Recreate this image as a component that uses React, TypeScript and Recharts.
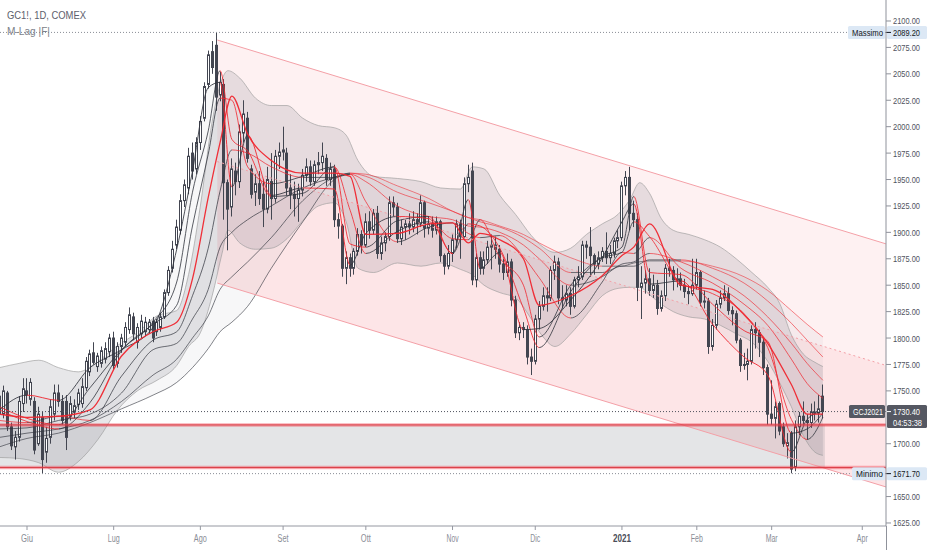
import React from 'react';
import { ComposedChart, Bar, Line, Area, XAxis, YAxis, ReferenceLine, ReferenceArea } from 'recharts';

const W = 932;
const H = 550;
const FONT = '"Liberation Sans", Arial, sans-serif';
const INK = '#434651';

// ---------- data ----------
const FIRST_BAR = -7; // 21 May 2020, bar index 0 = 1 Jun 2020
const OHLC: number[][] = [
  [1745,1752,1722,1728],[1728,1755,1724,1750],[1748,1750,1712,1716],[1716,1720,1694,1698],[1697,1712,1685,1706],[1706,1745,1702,1740],[1738,1762,1730,1752],
  [1750,1762,1738,1746],[1742,1762,1736,1758],[1740,1744,1690,1694],[1700,1735,1698,1728],[1725,1730,1671.7,1685],
  [1692,1716,1682,1705],[1706,1742,1700,1735],[1728,1756,1722,1748],[1748,1756,1735,1740],[1740,1746,1718,1722],
  [1740,1746,1694,1706],[1726,1745,1722,1738],[1730,1742,1724,1736],[1737,1752,1732,1748],[1738,1762,1734,1754],
  [1753,1782,1750,1778],[1768,1789,1764,1785],[1786,1796,1775,1777],[1773,1786,1768,1783],[1776,1792,1772,1788],
  [1780,1796,1776,1790],[1787,1804,1782,1800],
  [1800,1806,1770,1774],[1776,1796,1772,1792],[1792,1804,1786,1800],[1796,1815,1792,1810],[1808,1829,1804,1822],
  [1820,1824,1798,1804],[1796,1814,1790,1810],[1804,1822,1800,1816],[1806,1820,1802,1815],[1808,1818,1804,1815],
  [1816,1820,1796,1800],[1806,1818,1802,1815],[1810,1824,1806,1820],[1820,1846,1818,1843],[1843,1868,1840,1864],
  [1866,1892,1862,1884],[1888,1912,1884,1905],[1902,1936,1898,1930],[1930,1950,1924,1945],[1942,1980,1936,1972],
  [1975,1985,1950,1958],[1960,1990,1955,1985],
  [1985,2010,1978,2005],[2008,2042,2005,2038],[2040,2072,2036,2068],[2071,2081,2050,2056],[2077,2089.2,2015,2028],
  [2030,2052,2024,2042],[2040,2045,1912,1947],[1947,1950,1883,1922],[1924,1970,1915,1960],[1958,1966,1935,1948],
  [1948,2002,1942,1995],[1994,2025,1985,2012],[2008,2014,1966,1970],[1960,1964,1932,1936],[1938,1955,1925,1946],
  [1946,1958,1926,1932],[1936,1950,1905,1922],[1922,1962,1918,1950],[1948,1975,1912,1932],[1932,1978,1928,1972],
  [1972,1985,1960,1976],
  [1976,2000,1968,1978],[1975,1980,1935,1942],[1942,1955,1922,1936],[1936,1948,1915,1932],[1932,1946,1910,1940],
  [1940,1960,1934,1954],[1954,1970,1948,1962],[1962,1968,1944,1948],[1948,1968,1944,1964],[1964,1976,1955,1966],
  [1966,1985,1958,1972],[1970,1974,1944,1950],[1950,1966,1944,1960],[1960,1964,1905,1912],[1912,1918,1894,1906],
  [1906,1908,1858,1866],[1866,1882,1851,1876],[1876,1880,1858,1866],[1866,1885,1860,1882],[1882,1904,1878,1898],
  [1898,1902,1880,1888],
  [1888,1918,1886,1910],[1910,1920,1894,1902],[1902,1922,1898,1918],[1918,1925,1875,1880],[1880,1896,1874,1890],
  [1890,1900,1882,1896],[1896,1934,1892,1928],[1928,1934,1915,1924],[1924,1928,1890,1894],[1894,1912,1888,1905],
  [1905,1912,1893,1908],[1908,1918,1898,1905],[1905,1920,1900,1912],[1912,1918,1898,1908],[1908,1935,1905,1928],
  [1928,1930,1895,1904],[1904,1915,1898,1908],[1908,1915,1895,1902],[1902,1915,1898,1910],[1910,1912,1872,1878],
  [1878,1880,1860,1868],[1868,1888,1865,1880],
  [1880,1898,1872,1893],[1893,1912,1885,1908],[1908,1912,1875,1896],[1896,1952,1895,1946],[1946,1964,1938,1952],
  [1958,1966,1850,1855],[1855,1880,1848,1876],[1876,1882,1860,1866],[1866,1882,1860,1874],[1874,1892,1870,1886],
  [1886,1898,1865,1888],[1888,1896,1875,1884],[1884,1888,1862,1870],[1870,1875,1855,1862],[1862,1880,1858,1872],
  [1872,1875,1830,1836],[1836,1840,1800,1805],[1805,1815,1798,1810],[1810,1815,1800,1808],[1808,1812,1775,1782],
  [1782,1790,1765,1778],
  [1778,1822,1775,1818],[1818,1835,1808,1830],[1830,1848,1826,1840],[1840,1848,1825,1838],[1838,1868,1835,1864],
  [1864,1878,1855,1872],[1872,1876,1832,1838],[1838,1850,1828,1836],[1836,1850,1830,1842],[1842,1848,1822,1830],
  [1830,1858,1828,1855],[1855,1868,1848,1858],[1858,1892,1855,1888],[1888,1892,1875,1886],[1886,1905,1858,1878],
  [1878,1880,1860,1870],[1870,1882,1865,1876],[1876,1886,1872,1882],[1882,1900,1870,1876],[1876,1888,1870,1880],
  [1880,1895,1876,1892],[1892,1902,1885,1895],
  [1895,1948,1892,1944],[1944,1958,1935,1952],[1952,1962,1902,1918],[1918,1930,1905,1912],[1912,1918,1835,1848],
  [1848,1868,1818,1852],[1852,1864,1842,1856],[1856,1866,1840,1845],[1845,1860,1838,1850],[1850,1855,1822,1828],
  [1828,1845,1825,1840],[1840,1870,1835,1866],[1866,1875,1858,1864],[1864,1868,1845,1855],[1855,1866,1848,1856],
  [1856,1862,1845,1850],[1850,1856,1838,1844],[1844,1850,1832,1842],[1842,1875,1840,1850],
  [1850,1875,1846,1862],[1862,1864,1830,1834],[1834,1845,1828,1835],[1835,1838,1785,1792],[1792,1818,1788,1812],
  [1812,1836,1808,1832],[1832,1845,1828,1838],[1838,1850,1835,1842],[1842,1848,1822,1826],[1826,1830,1812,1823],
  [1823,1826,1795,1798],[1798,1800,1768,1774],[1774,1786,1770,1775],[1775,1790,1760,1778],[1778,1812,1775,1808],
  [1808,1815,1790,1805],[1805,1808,1782,1796],[1796,1800,1765,1772],[1772,1775,1718,1728],
  [1728,1760,1718,1724],[1724,1740,1705,1735],[1738,1740,1708,1712],[1716,1720,1697,1700],[1698,1710,1686,1701],
  [1710,1712,1672,1676],[1678,1722,1674,1716],[1716,1730,1708,1726],[1726,1740,1718,1722],[1722,1728,1704,1720],
  [1720,1738,1715,1730],[1730,1740,1722,1729],[1729,1746,1720,1733],[1745,1756,1724,1730.4],
];

const MONTH_TICKS = [0, 22, 44, 65, 86, 108, 129, 151, 170, 189, 212];
const MONTH_LABELS = ['Giu', 'Lug', 'Ago', 'Set', 'Ott', 'Nov', 'Dic', '2021', 'Feb', 'Mar', 'Apr'];
const MONTH_WIDTHS = [12, 12, 13, 11, 10, 12, 10, 18, 12, 12, 11];
const PRICE_TICKS = [2100, 2075, 2050, 2025, 2000, 1975, 1950, 1925, 1900, 1875, 1850, 1825, 1800, 1775, 1750, 1700, 1650, 1625];

// M-Lag ribbon, read at these bar indices (fast -> slow)
const RIBBON_X = [-7, 0, 8, 16, 24, 32, 38, 42, 46, 49, 52, 56, 62, 70, 78, 82, 86, 94, 102, 108, 112, 115, 120, 126, 130, 138, 146, 151, 154, 158, 166, 174, 182, 188, 194, 198, 202];
const LAG_1 = [1732,1746,1741,1772,1789,1810,1884,1958,2037,2042,1943,1992,1935,1942,1941,1869,1899,1915,1913,1880,1931,1866,1881,1808,1809,1836,1876,1910,1927,1851,1854,1813,1782,1765,1692,1723,1731];
const LAG_2 = [1735,1724,1718,1753,1789,1815,1853,1938,1996,2053,1988,1977,1934,1937,1962,1889,1886,1911,1915,1880,1908,1906,1885,1828,1791,1844,1877,1886,1934,1862,1860,1832,1807,1797,1710,1714,1729];
const LAG_3 = [1732,1721,1714,1739,1788,1813,1831,1906,1974,2027,2025,1962,1946,1953,1962,1921,1880,1901,1910,1894,1893,1912,1876,1850,1801,1850,1876,1881,1910,1896,1852,1842,1823,1791,1723,1704,1725];
const LAG_4 = [1728,1725,1726,1732,1783,1806,1815,1856,1933,1985,2029,1993,1968,1956,1956,1953,1898,1899,1908,1909,1890,1899,1893,1875,1831,1840,1859,1878,1886,1908,1850,1846,1822,1795,1756,1728,1728];
const LAG_5 = [1722,1720,1726,1722,1764,1798,1806,1840,1885,1939,1978,1975,1962,1952,1952,1955,1929,1891,1905,1909,1899,1895,1897,1877,1857,1819,1853,1881,1880,1895,1866,1852,1832,1812,1780,1757,1743];
const LAG_6 = [1714,1715,1722,1728,1748,1789,1795,1818,1846,1886,1900,1912,1925,1942,1952,1955,1948,1925,1915,1912,1906,1905,1900,1888,1875,1850,1858,1870,1872,1880,1872,1858,1840,1820,1795,1776,1760];
const LAG_7 = [1706,1710,1714,1722,1740,1765,1780,1800,1821,1846,1858,1872,1895,1930,1952,1956,1953,1938,1928,1920,1914,1910,1905,1895,1885,1862,1862,1868,1868,1874,1874,1866,1852,1835,1814,1798,1782];
const LAG_8 = [1697,1705,1710,1720,1733,1746,1758,1772,1790,1806,1815,1830,1866,1910,1950,1956,1955,1944,1932,1920,1914,1912,1906,1898,1890,1876,1868,1868,1871,1873,1873,1868,1858,1845,1826,1813,1801];

// envelope cloud
const CLOUD_X = [-7,-2,3,8,13,18,23,28,33,38,41,44,47,49.5,51,54,58,62,66,70,74,78,81,84,88,94,100,105,110,113,116,120,124,128,131,134,138,142,146,150,153,155.5,158,161,164,168,172,176,180,184,188,191,194,197,200,202];
const CLOUD_TOP = [1772,1776,1779,1772,1768,1778,1793,1805,1821,1826,1860,1925,2005,2045,2053,2046,2027,2020,2020,2008,2001,1999,1992,1968,1953,1951,1948,1942,1941,1962,1960,1935,1917,1897,1886,1881,1885,1898,1908,1917,1931,1947,1937,1913,1902,1898,1893,1886,1875,1862,1848,1833,1803,1785,1777,1773];
const CLOUD_BOTTOM = [1687,1686,1682,1673,1683,1704,1732,1750,1760,1774,1792,1805,1840,1880,1902,1890,1884,1885,1894,1911,1925,1928,1910,1866,1862,1871,1868,1871,1865,1860,1850,1843,1838,1818,1801,1792,1804,1822,1840,1847,1848,1848,1841,1832,1825,1820,1818,1812,1804,1796,1778,1758,1735,1708,1692,1689];

// descending channel
const CHANNEL_X = [48.3, 218.1];
const CHANNEL_TOP = [2082, 1889];
const CHANNEL_MID = [1967, 1774];
const CHANNEL_BOTTOM = [1852, 1659];

const ZONE_TOP = 1717.8;
const ZONE_BOTTOM = 1677.4;
const HIGH_PRICE = 2089.2;
const LOW_PRICE = 1671.7;
const LAST_PRICE = 1730.4;
const LAST_BAR = 202;
const COUNTDOWN = '04:53:38';

// ---------- derived tables ----------
const candleData = OHLC.map((q, k) => ({ x: FIRST_BAR + k, o: q[0], h: q[1], l: q[2], c: q[3] }));
const LAGS = [LAG_1, LAG_2, LAG_3, LAG_4, LAG_5, LAG_6, LAG_7, LAG_8];
const lagData = (vals: number[]) => RIBBON_X.map((x, k) => ({ x, v: vals[k] }));
const ribbonFill = RIBBON_X.map((x, k) => ({ x, r: [LAG_8[k], LAG_1[k]] }));
const cloudData = CLOUD_X.map((x, k) => ({ x, r: [CLOUD_BOTTOM[k], CLOUD_TOP[k]] }));
const chanUpper = CHANNEL_X.map((x, k) => ({ x, r: [CHANNEL_MID[k], CHANNEL_TOP[k]] }));
const chanLower = CHANNEL_X.map((x, k) => ({ x, r: [CHANNEL_BOTTOM[k], CHANNEL_MID[k]] }));
const chanLine = (arr: number[]) => CHANNEL_X.map((x, k) => ({ x, v: arr[k] }));

const UP_OPAC = [0.85, 0.8, 0.78, 0.75, 0.72, 0.68, 0.64, 0.6];
const DN_OPAC = [0.9, 0.85, 0.8, 0.95, 0.72, 0.66, 0.6, 0.55];

function lagStops(vals: number[], li: number) {
  const x0 = RIBBON_X[0];
  const span = RIBBON_X[RIBBON_X.length - 1] - x0;
  const out: any[] = [];
  for (let j = 0; j < vals.length - 1; j++) {
    const rising = vals[j + 1] >= vals[j] && li !== 3;
    const col = rising ? '#2f323b' : '#f0262f';
    const op = rising ? UP_OPAC[li] : DN_OPAC[li];
    out.push(<stop key={j + 'a'} offset={(RIBBON_X[j] - x0) / span} stopColor={col} stopOpacity={op} />);
    out.push(<stop key={j + 'b'} offset={(RIBBON_X[j + 1] - x0) / span} stopColor={col} stopOpacity={op} />);
  }
  return out;
}

// ---------- shapes ----------
const Candle = (props: any) => {
  const { x, y, width, height, payload } = props;
  if (!payload || height == null || isNaN(y)) return null;
  const { o, h, l, c } = payload;
  const hh = Math.abs(height);
  const k = hh / (h - l || 1);
  const col = Math.round(x + width / 2 - 0.5);
  const top = y + (h - Math.max(o, c)) * k;
  const bot = y + (h - Math.min(o, c)) * k;
  const up = c >= o;
  return (
    <g>
      <line x1={col + 0.5} x2={col + 0.5} y1={y} y2={y + hh} stroke={INK} strokeWidth={1} />
      <rect x={col - 0.5} y={top} width={2} height={Math.max(bot - top, 0.8)} fill={up ? '#ffffff' : INK} stroke={INK} strokeWidth={1} />
    </g>
  );
};

const MonthTick = (props: any) => {
  const { x, y, payload } = props;
  const idx = MONTH_TICKS.indexOf(payload.value);
  if (idx < 0) return null;
  const bold = MONTH_LABELS[idx] === '2021';
  return (
    <text x={x} y={y + 8.5} textAnchor="middle" fontSize={10} fontFamily={FONT}
      fill={bold ? '#4a4d57' : '#8a8d96'} fontWeight={bold ? 700 : 400}
      textLength={MONTH_WIDTHS[idx]} lengthAdjust="spacingAndGlyphs">
      {MONTH_LABELS[idx]}
    </text>
  );
};

const PriceTick = (props: any) => {
  const { x, y, payload } = props;
  return (
    <text x={x} y={y + 3.5} fontSize={9.5} fontFamily={FONT} fill="#50535e"
      textLength={27} lengthAdjust="spacingAndGlyphs">
      {Number(payload.value).toFixed(2)}
    </text>
  );
};

const Tag = (props: any) => {
  const { viewBox, name, value, sub, dark, nameW } = props;
  if (!viewBox) return null;
  const yy = viewBox.y;
  const right = viewBox.x + viewBox.width;
  const bg = dark ? '#555862' : '#dce8f5';
  const fg = dark ? '#ffffff' : '#131722';
  return (
    <g>
      <rect x={right - nameW - 5} y={yy - 6.5} width={nameW + 4} height={13} rx={1.5} fill={bg} />
      <text x={right - 3} y={yy + 3.5} textAnchor="end" fontSize={9.5} fontFamily={FONT} fill={fg}
        textLength={nameW - 2} lengthAdjust="spacingAndGlyphs">{name}</text>
      <rect x={right + 1} y={yy - 6.5} width={40} height={sub ? 23 : 13} rx={1.5} fill={bg} />
      <line x1={right} x2={right + 5} y1={yy} y2={yy} stroke={fg} strokeWidth={1} />
      <text x={right + 7} y={yy + 3.5} fontSize={9.5} fontFamily={FONT} fill={fg}
        textLength={27} lengthAdjust="spacingAndGlyphs">{value}</text>
      {sub ? (
        <text x={right + 7} y={yy + 14} fontSize={9.5} fontFamily={FONT} fill={fg}
          textLength={29} lengthAdjust="spacingAndGlyphs">{sub}</text>
      ) : null}
    </g>
  );
};

export default function App() {
  const order = [7, 6, 5, 4, 2, 1, 0, 3];
  return (
    <div style={{ position: 'absolute', left: 0, top: 0, width: W, height: H, background: '#ffffff', overflow: 'hidden' }}>
      <ComposedChart width={W} height={H} data={candleData} margin={{ top: 0, right: 0, bottom: 0, left: 0 }}>
        <defs>
          {LAGS.map((vals, li) => (
            <linearGradient key={li} id={'lag' + li} x1="0" y1="0" x2="1" y2="0">
              {lagStops(vals, li)}
            </linearGradient>
          ))}
        </defs>
        <XAxis dataKey="x" type="number" domain={[-6.853, 218.02]} allowDataOverflow
          ticks={MONTH_TICKS} interval={0} height={24} tickSize={4} tickMargin={3}
          stroke="#9598a1" tickLine={{ stroke: '#9598a1' }} tick={<MonthTick />} />
        <YAxis orientation="right" type="number" domain={[1622.14, 2119.87]} allowDataOverflow
          ticks={PRICE_TICKS} interval={0} width={46} tickSize={5} tickMargin={2}
          stroke="#8f929b" tickLine={{ stroke: '#8f929b' }} tick={<PriceTick />} />

        <Area data={chanUpper} dataKey="r" type="linear" stroke="none" fill="#f23645" fillOpacity={0.07} isAnimationActive={false} />
        <Area data={chanLower} dataKey="r" type="linear" stroke="none" fill="#f23645" fillOpacity={0.13} isAnimationActive={false} />

        <ReferenceArea x2={LAST_BAR + 0.5} y1={ZONE_BOTTOM} y2={ZONE_TOP} fill="#787b86" fillOpacity={0.2} stroke="none" ifOverflow="hidden" />

        <Area data={cloudData} dataKey="r" type="monotone" stroke="#9a9a9a" strokeWidth={0.8} strokeOpacity={0.8}
          fill="#787b86" fillOpacity={0.18} isAnimationActive={false} />
        <Area data={ribbonFill} dataKey="r" type="monotone" stroke="none" fill="#9598a1" fillOpacity={0.08} isAnimationActive={false} />

        {order.map((li) => (
          <Line key={li} data={lagData(LAGS[li])} dataKey="v" type="monotone" stroke={'url(#lag' + li + ')'}
            strokeWidth={li === 3 ? 1.3 : 1} dot={false} activeDot={false} isAnimationActive={false} />
        ))}

        <Bar dataKey={(d: any) => [d.l, d.h]} barSize={3} shape={(p: any) => <Candle {...p} />} isAnimationActive={false} />

        <Line data={chanLine(CHANNEL_TOP)} dataKey="v" type="linear" stroke="#f4a0a7" strokeWidth={1} dot={false} activeDot={false} isAnimationActive={false} />
        <Line data={chanLine(CHANNEL_MID)} dataKey="v" type="linear" stroke="#f4a0a7" strokeWidth={1} strokeDasharray="2 3" dot={false} activeDot={false} isAnimationActive={false} />
        <Line data={chanLine(CHANNEL_BOTTOM)} dataKey="v" type="linear" stroke="#f4a0a7" strokeWidth={1} dot={false} activeDot={false} isAnimationActive={false} />

        <ReferenceLine y={ZONE_TOP} stroke="#f23645" strokeOpacity={0.4} strokeWidth={3.5} />
        <ReferenceLine y={ZONE_TOP} stroke="#d93840" strokeWidth={1} />
        <ReferenceLine y={ZONE_BOTTOM} stroke="#f23645" strokeOpacity={0.4} strokeWidth={3.5} />
        <ReferenceLine y={ZONE_BOTTOM} stroke="#d93840" strokeWidth={1} />

        <ReferenceLine y={HIGH_PRICE} stroke="#8a8d96" strokeDasharray="1 2"
          label={<Tag name="Massimo" value={HIGH_PRICE.toFixed(2)} nameW={33} />} />
        <ReferenceLine y={LAST_PRICE} stroke="#50535e" strokeDasharray="1 2"
          label={<Tag name="GCJ2021" value={LAST_PRICE.toFixed(2)} sub={COUNTDOWN} dark nameW={32} />} />
        <ReferenceLine y={LOW_PRICE} stroke="#8a8d96" strokeDasharray="1 2"
          label={<Tag name="Minimo" value={LOW_PRICE.toFixed(2)} nameW={29} />} />
      </ComposedChart>
      <svg width={W} height={H} style={{ position: 'absolute', left: 0, top: 0, pointerEvents: 'none' }}>
        <text x={7} y={19} fontSize={10.5} fontFamily={FONT} fill="#5d606b" textLength={79} lengthAdjust="spacingAndGlyphs">GC1!, 1D, COMEX</text>
        <text x={7} y={35} fontSize={10.5} fontFamily={FONT} fill="#7c7f89" textLength={43} lengthAdjust="spacingAndGlyphs">M-Lag |F|</text>
        <line x1={886.5} x2={886.5} y1={526} y2={H} stroke="#8f929b" strokeWidth={1} />
      </svg>
    </div>
  );
}
